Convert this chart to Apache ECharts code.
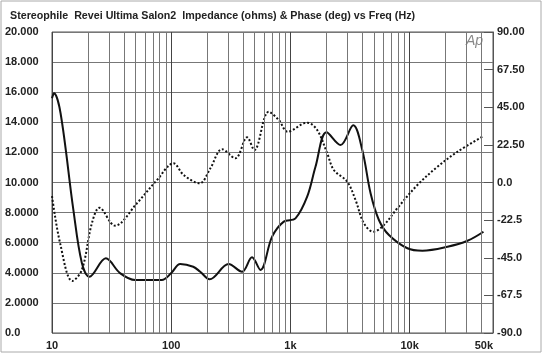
<!DOCTYPE html>
<html><head><meta charset="utf-8">
<script src="https://cdn.jsdelivr.net/npm/echarts@6/dist/echarts.min.js"></script>
<style>html,body{margin:0;padding:0;background:#fff}#c{width:543px;height:358px}</style>
</head><body><div id="c"></div>
<script>
// Impedance (ohms) vs frequency (Hz)
const impFreq = [10,10.4,11.8,15.1,17.8,20.6,28.3,37.2,49.9,83.3,100,119,153,175,210,303,393,476,560,702,879,1102,1381,1622,2007,2631,3365,4004,4700,5520,6700,9570,12790,20750,30550,41600];
const impValues = [15.6,15.93,14.6,8.2,4.65,3.74,4.96,3.98,3.52,3.52,3.98,4.58,4.4,4.07,3.57,4.58,4.07,5.03,4.19,6.4,7.4,7.62,9.06,11.05,13.34,12.49,13.8,12.16,9.28,7.51,6.51,5.63,5.47,5.73,6.13,6.73];
// Phase (deg) vs frequency (Hz)
const phaseFreq = [10,11.7,14.8,17.8,21.6,25,33.8,51.6,76,104.5,127,173,213,267,345,433,498,657,798,949,1381,1676,2033,2312,2993,3516,4130,4955,6080,7880,11610,17100,25180,41600];
const phaseValues = [-8.1,-36.4,-58.9,-52.3,-24.4,-15.1,-25.8,-12.4,1.5,11.5,4.5,-0.5,8.5,19.9,14.5,27,19.4,42.3,37.4,30.4,35.8,31.4,17.5,7.5,0.5,-10.5,-24.4,-29.4,-25.4,-15.4,-1.5,9.4,18.4,27.8];
// Tick labels
const leftTickLabels = ['0.0','2.0000','4.0000','6.0000','8.0000','10.000','12.000','14.000','16.000','18.000','20.000'];
const rightTickLabels = ['-90.0','-67.5','-45.0','-22.5','0.0','22.50','45.00','67.50','90.00'];
const minorGridFreqs = [20,30,40,50,60,70,80,90,200,300,400,500,600,700,800,900,2000,3000,4000,5000,6000,7000,8000,9000,20000,30000,40000];
const titleText = 'Stereophile  Revei Ultima Salon2  Impedance (ohms) & Phase (deg) vs Freq (Hz)';

const FONT = 'Liberation Sans';
const LBL = { fontFamily: FONT, fontSize: 11, fontWeight: 'bold', color: '#222' };
const chart = echarts.init(document.getElementById('c'));
chart.setOption({
  animation: false,
  backgroundColor: '#fff',
  title: { text: titleText, left: 5, top: 6, textStyle: { fontFamily: FONT, fontSize: 10.7, fontWeight: 'bold', color: '#222' } },
  graphic: [
    { type: 'rect', shape: { x: 1, y: 1, width: 540, height: 351 }, style: { fill: 'none', stroke: '#aaa', lineWidth: 1 }, silent: true },
    { type: 'text', left: 466, top: 34, style: { text: 'Ap', fontFamily: FONT, fontSize: 14, fontStyle: 'italic', fill: '#888' }, silent: true }
  ],
  grid: { left: 52, right: 50, top: 32, bottom: 25, show: true, borderColor: '#555', borderWidth: 1 },
  xAxis: {
    type: 'log', logBase: 10, min: 10, max: 50000,
    axisLine: { show: false }, axisTick: { show: false },
    axisLabel: Object.assign({}, LBL, { margin: 7, showMaxLabel: true, alignMaxLabel: 'right',
      formatter: v => v >= 1000 ? (v / 1000) + 'k' : String(v) }),
    splitLine: { show: true, lineStyle: { color: '#444', width: 1 } }
  },
  yAxis: [
    { type: 'value', min: 0, max: 20, interval: 2, position: 'left',
      axisLine: { show: false }, axisTick: { show: false },
      axisLabel: Object.assign({}, LBL, { align: 'left', margin: 47,
        formatter: v => leftTickLabels[Math.round(v / 2)] }),
      splitLine: { show: true, lineStyle: { color: '#777', width: 1 } } },
    { type: 'value', min: -90, max: 90, interval: 22.5, position: 'right',
      axisLine: { show: true, lineStyle: { color: '#555' } },
      axisTick: { show: true, inside: true, length: 9, lineStyle: { color: '#555' } },
      axisLabel: Object.assign({}, LBL, { margin: 4,
        formatter: v => rightTickLabels[Math.round((v + 90) / 22.5)] }),
      splitLine: { show: false } }
  ],
  series: [
    { name: 'Impedance', type: 'line', yAxisIndex: 0, showSymbol: false, smooth: 0.35,
      data: impFreq.map((f, i) => [f, impValues[i]]),
      lineStyle: { color: '#111', width: 2 },
      markLine: { silent: true, symbol: 'none', label: { show: false },
        lineStyle: { color: '#777', width: 1, type: 'solid' },
        data: minorGridFreqs.map(f => ({ xAxis: f })) },
      z: 3 },
    { name: 'Phase', type: 'line', yAxisIndex: 1, showSymbol: false, smooth: 0.35,
      data: phaseFreq.map((f, i) => [f, phaseValues[i]]),
      lineStyle: { color: '#111', width: 2, type: [2, 2] }, z: 3 }
  ]
});
</script></body></html>
